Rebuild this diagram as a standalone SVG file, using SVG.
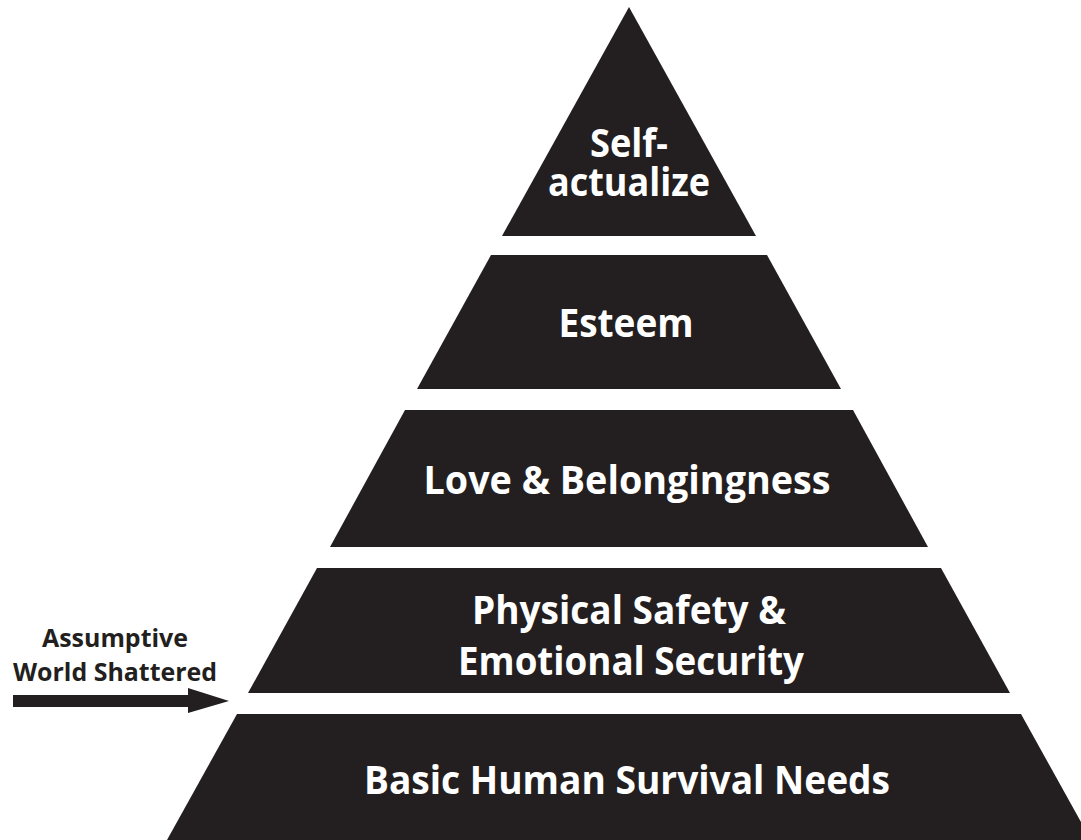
<svg xmlns="http://www.w3.org/2000/svg" width="1081" height="840" viewBox="0 0 1081 840">
  <style>
    .tier { fill: #231f20; }
    .label { font-family: "Open Sans", "Liberation Sans", sans-serif; font-weight: 700; font-size: 40px; fill: #ffffff; text-anchor: middle; }
    .note { font-family: "Open Sans", "Liberation Sans", sans-serif; font-weight: 700; font-size: 25px; fill: #231f20; text-anchor: middle; }
  </style>
  <rect width="1081" height="840" fill="#ffffff"/>

  <!-- pyramid tiers, sides follow x = 629 ± 0.555·(y − 7) -->
  <g id="self-actualize">
    <polygon class="tier" points="629,7 756,236 502,236"/>
    <text class="label" x="629" y="157" textLength="78" lengthAdjust="spacingAndGlyphs">Self-</text>
    <text class="label" x="629" y="196" textLength="162" lengthAdjust="spacingAndGlyphs">actualize</text>
  </g>

  <g id="esteem">
    <polygon class="tier" points="491,255 767,255 841,389 417,389"/>
    <text class="label" x="626" y="337" textLength="135" lengthAdjust="spacingAndGlyphs">Esteem</text>
  </g>

  <g id="love-belongingness">
    <polygon class="tier" points="405,410 853,410 928,547 330,547"/>
    <text class="label" x="627" y="494" textLength="407" lengthAdjust="spacingAndGlyphs">Love &amp; Belongingness</text>
  </g>

  <g id="safety-security">
    <polygon class="tier" points="317,568 941,568 1010,693 248,693"/>
    <text class="label" x="629" y="624" textLength="314" lengthAdjust="spacingAndGlyphs">Physical Safety &amp;</text>
    <text class="label" x="631" y="675" textLength="346" lengthAdjust="spacingAndGlyphs">Emotional Security</text>
  </g>

  <g id="survival-needs">
    <polygon class="tier" points="237,714 1021,714 1091,840 167,840"/>
    <text class="label" x="627" y="794" textLength="526" lengthAdjust="spacingAndGlyphs">Basic Human Survival Needs</text>
  </g>

  <!-- side annotation -->
  <g id="assumptive-world">
    <text class="note" x="115" y="647" textLength="146" lengthAdjust="spacingAndGlyphs">Assumptive</text>
    <text class="note" x="115" y="681" textLength="204" lengthAdjust="spacingAndGlyphs">World Shattered</text>
  </g>

  <g id="connectors">
    <rect class="tier" x="13" y="695" width="176" height="12"/>
    <polygon class="tier" points="188,688 229,701 188,713"/>
  </g>
</svg>
